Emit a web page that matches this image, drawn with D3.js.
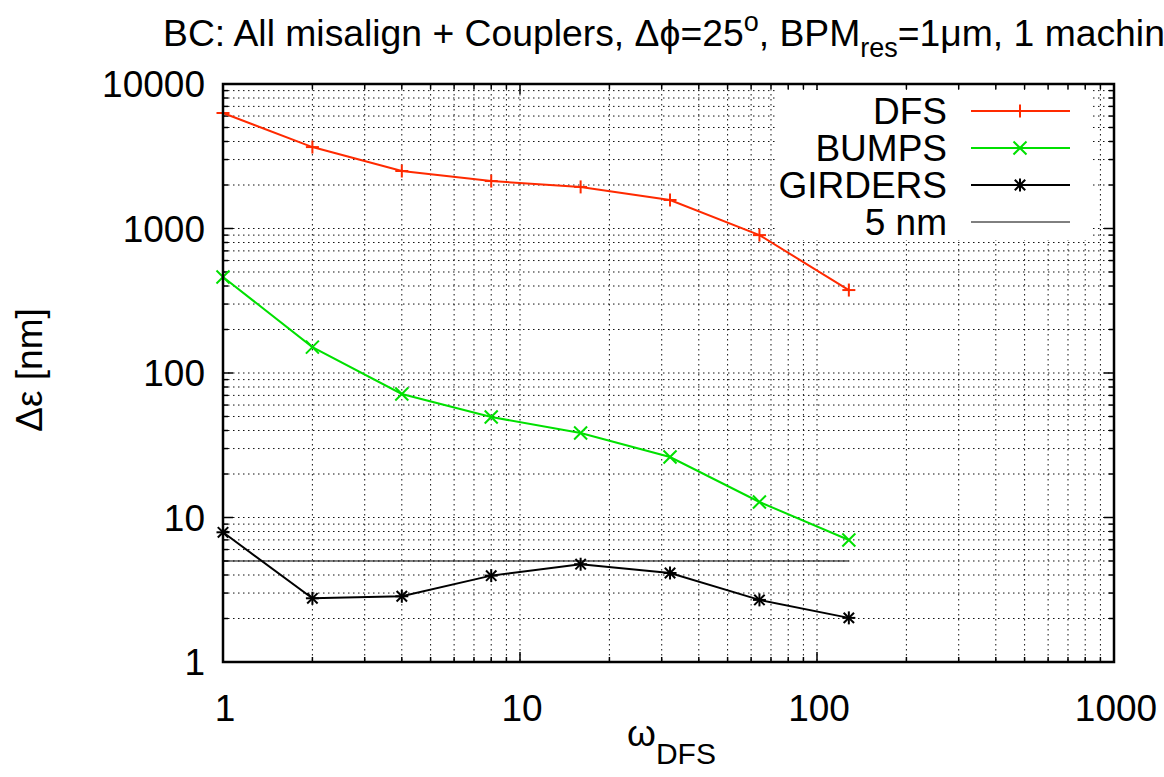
<!DOCTYPE html>
<html><head><meta charset="utf-8">
<script src="https://cdn.jsdelivr.net/npm/d3@7"></script>
<style>
html,body{margin:0;padding:0;background:#fff;overflow:hidden}
text{font-family:"Liberation Sans",Arial,Helvetica,sans-serif;fill:#000}
</style></head>
<body><svg id="c" width="1164" height="777"></svg>
<script>
const omega = [1, 2, 4, 8, 16, 32, 64, 128];
const dfs = [6300, 3660, 2500, 2130, 1940, 1575, 900, 375];
const bumps = [462, 151, 71.6, 49.6, 38.4, 26.2, 12.8, 6.99];
const girders = [7.9, 2.76, 2.85, 3.96, 4.75, 4.13, 2.69, 2.02];
const refLine = 5;
const refRange = [1, 128];
const xTickLabels = ["1", "10", "100", "1000"];
const yTickLabels = ["1", "10", "100", "1000", "10000"];
const legendNames = ["DFS", "BUMPS", "GIRDERS", "5 nm"];

const svg = d3.select("#c");
const L = 223, R = 1114, T = 84, B = 662;
const x = d3.scaleLog().domain([1, 1000]).range([L, R]);
const y = d3.scaleLog().domain([1, 10000]).range([B, T]);
const FS = 37;

function logTicks(lo, hi) {
  const maj = [], min = [];
  for (let d = lo; d <= hi; d *= 10) {
    maj.push(d);
    if (d < hi) for (let k = 2; k <= 9; k++) min.push(d * k);
  }
  return {maj, min};
}
const xt = logTicks(1, 1000), yt = logTicks(1, 10000);

// grid
const g = svg.append("g").attr("stroke", "#111").attr("stroke-width", 1).attr("stroke-dasharray", "1.5,3.5");
xt.maj.concat(xt.min).filter(v => v > 1 && v < 1000).forEach(v => {
  g.append("line").attr("x1", x(v)).attr("x2", x(v)).attr("y1", T).attr("y2", B);
});
yt.maj.concat(yt.min).filter(v => v > 1 && v < 10000).forEach(v => {
  g.append("line").attr("x1", L).attr("x2", R).attr("y1", y(v)).attr("y2", y(v));
});

// ticks (mirrored, inward)
const tk = svg.append("g").attr("stroke", "#000").attr("stroke-width", 1.5);
xt.maj.forEach(v => {
  tk.append("line").attr("x1", x(v)).attr("x2", x(v)).attr("y1", B).attr("y2", B - 10);
  tk.append("line").attr("x1", x(v)).attr("x2", x(v)).attr("y1", T).attr("y2", T + 10);
});
xt.min.forEach(v => {
  tk.append("line").attr("x1", x(v)).attr("x2", x(v)).attr("y1", B).attr("y2", B - 5);
  tk.append("line").attr("x1", x(v)).attr("x2", x(v)).attr("y1", T).attr("y2", T + 5);
});
yt.maj.forEach(v => {
  tk.append("line").attr("x1", L).attr("x2", L + 10).attr("y1", y(v)).attr("y2", y(v));
  tk.append("line").attr("x1", R).attr("x2", R - 10).attr("y1", y(v)).attr("y2", y(v));
});
yt.min.forEach(v => {
  tk.append("line").attr("x1", L).attr("x2", L + 5).attr("y1", y(v)).attr("y2", y(v));
  tk.append("line").attr("x1", R).attr("x2", R - 5).attr("y1", y(v)).attr("y2", y(v));
});

// tick labels
xt.maj.forEach((v, i) => {
  svg.append("text").attr("x", x(v) + 2).attr("y", 721).attr("text-anchor", "middle")
    .attr("font-size", FS).text(xTickLabels[i]);
});
yt.maj.forEach((v, i) => {
  svg.append("text").attr("x", 205).attr("y", y(v) + 13).attr("text-anchor", "end")
    .attr("font-size", FS).text(yTickLabels[i]);
});

// legend box (opaque)
svg.append("rect").attr("x", 778).attr("y", 90).attr("width", 312).attr("height", 150).attr("fill", "#fff");

// 5 nm line
svg.append("line").attr("x1", x(refRange[0])).attr("x2", x(refRange[1]))
  .attr("y1", y(refLine)).attr("y2", y(refLine)).attr("stroke", "#000").attr("stroke-width", 1);

// series
const series = [
  {name: legendNames[0], vals: dfs, color: "#ff2a00", mk: "plus"},
  {name: legendNames[1], vals: bumps, color: "#00e000", mk: "cross"},
  {name: legendNames[2], vals: girders, color: "#000", mk: "star"}
];
function marker(gr, cx, cy, type, color) {
  const s = 6.5;
  const segs = [];
  if (type === "plus" || type === "star") { segs.push([-s, 0, s, 0], [0, -s, 0, s]); }
  if (type === "cross" || type === "star") { const t = type === "star" ? s * 0.8 : s; segs.push([-t, -t, t, t], [-t, t, t, -t]); }
  segs.forEach(q => gr.append("line").attr("x1", cx + q[0]).attr("y1", cy + q[1])
    .attr("x2", cx + q[2]).attr("y2", cy + q[3]).attr("stroke", color).attr("stroke-width", 2));
}
const line = d3.line().x(d => x(d[0])).y(d => y(d[1]));
series.forEach(s => {
  const pts = omega.map((o, i) => [o, s.vals[i]]);
  svg.append("path").attr("d", line(pts)).attr("fill", "none").attr("stroke", s.color).attr("stroke-width", 2);
  const mg = svg.append("g");
  pts.forEach(p => marker(mg, x(p[0]), y(p[1]), s.mk, s.color));
});

// legend
const rows = [111, 148, 185, 222];
series.forEach((s, i) => {
  svg.append("text").attr("x", 947).attr("y", rows[i] + 13).attr("text-anchor", "end").attr("font-size", FS).text(s.name);
  svg.append("line").attr("x1", 971).attr("x2", 1070).attr("y1", rows[i]).attr("y2", rows[i]).attr("stroke", s.color).attr("stroke-width", 2);
  marker(svg, 1020, rows[i], s.mk, s.color);
});
svg.append("text").attr("x", 947).attr("y", rows[3] + 13).attr("text-anchor", "end").attr("font-size", FS).text(legendNames[3]);
svg.append("line").attr("x1", 971).attr("x2", 1070).attr("y1", rows[3]).attr("y2", rows[3]).attr("stroke", "#000").attr("stroke-width", 1);

// frame
svg.append("rect").attr("x", L).attr("y", T).attr("width", R - L).attr("height", B - T)
  .attr("fill", "none").attr("stroke", "#000").attr("stroke-width", 2.5);

// title
const title = svg.append("text").attr("x", 163).attr("y", 46).attr("font-size", 37.3);
title.append("tspan").text("BC: All misalign + Couplers, \u0394\u03d5=25");
title.append("tspan").attr("dy", -15).attr("font-size", 27).text("o");
title.append("tspan").attr("dy", 15).text(", BPM");
title.append("tspan").attr("dy", 11).attr("font-size", 27).text("res");
title.append("tspan").attr("dy", -11).text("=1\u03bcm, 1 machine");

// axis labels
svg.append("text").attr("transform", "translate(42,370) rotate(-90)").attr("text-anchor", "middle")
  .attr("font-size", FS).text("\u0394\u03b5 [nm]");
const xl = svg.append("text").attr("x", 627).attr("y", 746).attr("font-size", FS);
xl.append("tspan").text("\u03c9");
xl.append("tspan").attr("dy", 18).attr("font-size", 30).text("DFS");
</script></body></html>
